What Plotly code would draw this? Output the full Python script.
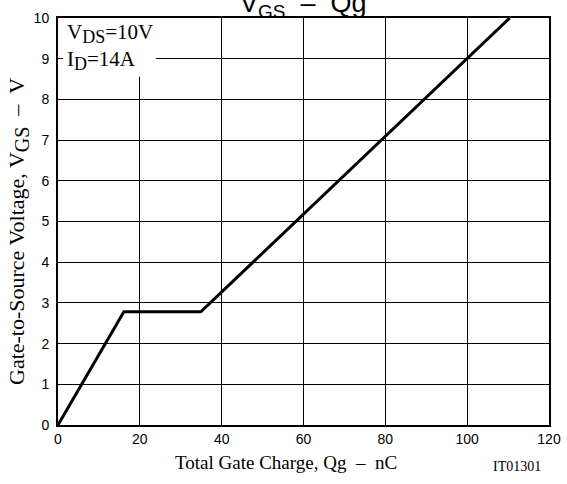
import plotly.graph_objects as go

# Data
qg_nc = [0, 16.1, 34.9, 110.4]
vgs_v = [0, 2.78, 2.78, 10.0]
x_ticks = [0, 20, 40, 60, 80, 100, 120]
y_ticks = [0, 1, 2, 3, 4, 5, 6, 7, 8, 9, 10]

SERIF = "Liberation Serif, Times New Roman"
SANS = "Liberation Sans, Arial"
SP = "&nbsp;&nbsp;"


def sub(t, px):
    return f"<sub><span style='font-size:{px}px'>{t}</span></sub>"


fig = go.Figure()
fig.add_trace(go.Scatter(x=qg_nc, y=vgs_v, mode="lines",
                         line=dict(color="black", width=3), showlegend=False))

# white box behind condition text (covers gridlines)
fig.add_shape(type="rect", xref="x", yref="y", x0=0, x1=23.9, y0=8.56, y1=10,
              fillcolor="white", line=dict(width=0), layer="between")

# chart title (partly cut at the top like the reference)
fig.add_annotation(xref="paper", yref="paper", x=0.5, y=1, yanchor="bottom",
                   text="V" + sub("GS", 19) + " &nbsp;–&nbsp; Qg", showarrow=False, yshift=-6,
                   font=dict(family=SANS, size=27, color="black"))
# condition text
fig.add_annotation(xref="x", yref="y", x=1.8, y=9.62, xanchor="left", yanchor="middle",
                   text="V" + sub("DS", 18) + "=10V", showarrow=False,
                   font=dict(family=SERIF, size=21, color="black"))
fig.add_annotation(xref="x", yref="y", x=1.8, y=8.95, xanchor="left", yanchor="middle",
                   text="I" + sub("D", 18) + "=14A", showarrow=False,
                   font=dict(family=SERIF, size=21, color="black"))
# x-axis title
fig.add_annotation(xref="paper", yref="paper", x=(286 - 58) / (549 - 58), y=0,
                   xanchor="center", yanchor="middle", yshift=-37,
                   text="Total Gate Charge, Qg" + SP + "–" + SP + "nC", showarrow=False,
                   font=dict(family=SERIF, size=19, color="black"))
# y-axis title
fig.add_annotation(xref="paper", yref="paper", x=0, y=(425 - 232) / (425 - 18),
                   xanchor="center", yanchor="middle", xshift=-40, textangle=-90,
                   text="Gate-to-Source Voltage, V" + sub("GS", 20) + SP + "–" + SP + "V",
                   showarrow=False,
                   font=dict(family=SERIF, size=22, color="black"))
# figure code
fig.add_annotation(xref="paper", yref="paper", x=1, y=0, xanchor="right", yanchor="middle",
                   text="IT01301", showarrow=False, xshift=-6, yshift=-41,
                   font=dict(family=SERIF, size=14, color="black"))

fig.update_xaxes(range=[0, 120], tickvals=x_ticks, showgrid=True, gridcolor="black", gridwidth=1,
                 showline=True, linecolor="black", linewidth=2, mirror=True,
                 ticks="", zeroline=False, automargin=False,
                 tickfont=dict(family=SANS, size=14, color="black"))
fig.update_yaxes(range=[0, 10], tickvals=y_ticks, showgrid=True, gridcolor="black", gridwidth=1,
                 showline=True, linecolor="black", linewidth=2, mirror=True,
                 ticks="inside", ticklen=5, tickcolor="black", zeroline=False, automargin=False,
                 ticklabelstandoff=4,
                 tickfont=dict(family=SANS, size=14, color="black"))

fig.update_layout(width=567, height=484, margin=dict(l=58, r=18, t=18, b=59),
                  plot_bgcolor="white", paper_bgcolor="white")

fig.write_html("out.html", config={"displayModeBar": False},
               post_script="document.body.style.margin='0';document.body.style.padding='0';")
